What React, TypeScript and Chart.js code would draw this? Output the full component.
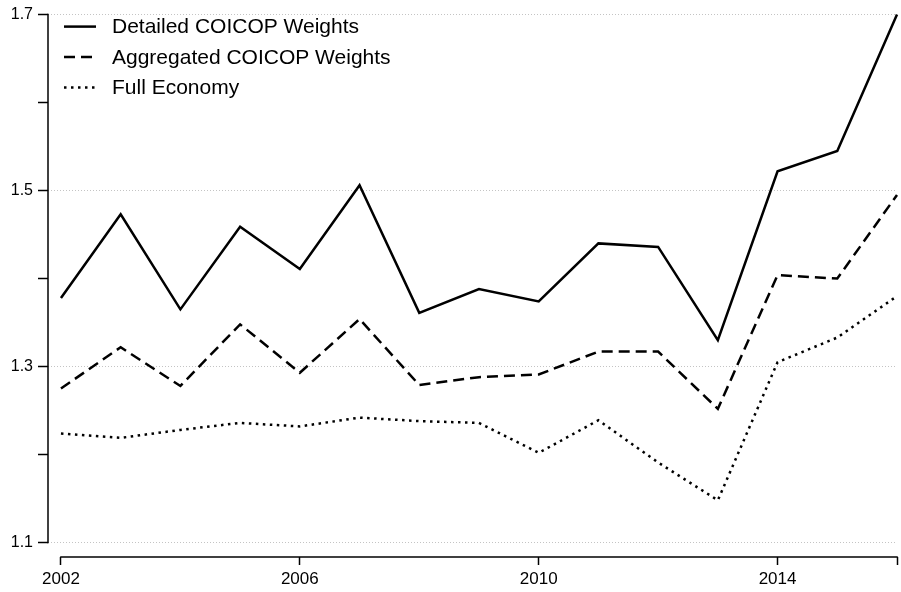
import React, { useEffect, useRef } from "react";
import { Chart, registerables } from "chart.js";

Chart.register(...registerables);

const years = [2002, 2003, 2004, 2005, 2006, 2007, 2008, 2009, 2010, 2011, 2012, 2013, 2014, 2015, 2016];
const detailed = [1.378, 1.473, 1.365, 1.459, 1.411, 1.506, 1.361, 1.388, 1.374, 1.440, 1.436, 1.330, 1.522, 1.545, 1.700];
const aggregated = [1.275, 1.322, 1.278, 1.348, 1.293, 1.354, 1.279, 1.288, 1.291, 1.317, 1.317, 1.252, 1.404, 1.400, 1.495];
const fullEconomy = [1.224, 1.219, 1.228, 1.236, 1.232, 1.242, 1.238, 1.236, 1.202, 1.239, 1.191, 1.148, 1.305, 1.333, 1.380];

const seriesLabels = ["Detailed COICOP Weights", "Aggregated COICOP Weights", "Full Economy"];
const xTicks = [2002, 2006, 2010, 2014, 2016];
const xLabelled = [2002, 2006, 2010, 2014];
const yTicks = [1.1, 1.2, 1.3, 1.4, 1.5, 1.6, 1.7];
const yLabelled = [1.1, 1.3, 1.5, 1.7];

const FONT = '"Liberation Sans", Arial, Helvetica, sans-serif';

const isIn = (arr: number[], v: number) => arr.some((a) => Math.abs(a - v) < 1e-6);

const axesPlugin = {
  id: "stataAxes",
  afterDraw(chart: any) {
    const ctx = chart.ctx;
    const xs = chart.scales.x;
    const ys = chart.scales.y;
    const area = chart.chartArea;
    ctx.save();
    ctx.strokeStyle = "#000";
    ctx.lineWidth = 1.5;
    ctx.setLineDash([]);
    ctx.beginPath();
    ctx.moveTo(area.left, ys.getPixelForValue(yTicks[yTicks.length - 1]) - 0.75);
    ctx.lineTo(area.left, ys.getPixelForValue(yTicks[0]) + 0.75);
    ctx.stroke();
    ctx.beginPath();
    ctx.moveTo(xs.getPixelForValue(xTicks[0]) - 0.75, area.bottom);
    ctx.lineTo(xs.getPixelForValue(xTicks[xTicks.length - 1]) + 0.75, area.bottom);
    ctx.stroke();

    // legend
    const ds = chart.data.datasets;
    ctx.font = "21px " + FONT;
    ctx.textBaseline = "middle";
    ctx.textAlign = "left";
    ds.forEach((d: any, i: number) => {
      const y = area.top + 12 + i * 30.5;
      ctx.strokeStyle = d.borderColor;
      ctx.lineWidth = d.borderWidth;
      ctx.setLineDash(d.borderDash || []);
      ctx.lineCap = "butt";
      ctx.beginPath();
      ctx.moveTo(area.left + 16, y);
      ctx.lineTo(area.left + 48, y);
      ctx.stroke();
      ctx.setLineDash([]);
      ctx.fillStyle = "#000";
      ctx.fillText(d.label, area.left + 64, y + 1);
    });
    ctx.restore();
  },
};

export default function App() {
  const ref = useRef<HTMLCanvasElement | null>(null);
  useEffect(() => {
    if (!ref.current) return;
    const mk = (vals: number[]) => years.map((x, i) => ({ x, y: vals[i] }));
    const chart = new Chart(ref.current, {
      type: "line",
      data: {
        datasets: [
          { label: seriesLabels[0], data: mk(detailed), borderColor: "#000", borderWidth: 2.5, borderDash: [], pointRadius: 0, tension: 0, borderJoinStyle: "miter", clip: false },
          { label: seriesLabels[1], data: mk(aggregated), borderColor: "#000", borderWidth: 2.5, borderDash: [11, 6], pointRadius: 0, tension: 0, borderJoinStyle: "miter", clip: false },
          { label: seriesLabels[2], data: mk(fullEconomy), borderColor: "#000", borderWidth: 2.5, borderDash: [2.5, 4.5], pointRadius: 0, tension: 0, borderJoinStyle: "miter", clip: false },
        ] as any,
      },
      options: {
        animation: false,
        responsive: false,
        devicePixelRatio: 1,
        layout: { padding: { top: 13, right: 2, left: 0, bottom: 0 } },
        plugins: { legend: { display: false }, tooltip: { enabled: false } },
        scales: {
          x: {
            type: "linear",
            min: 2001.783,
            max: 2016,
            afterBuildTicks: (s: any) => {
              s.ticks = xTicks.map((v) => ({ value: v }));
            },
            afterFit: (s: any) => {
              s.height = 35;
            },
            ticks: {
              autoSkip: false,
              maxRotation: 0,
              padding: 4,
              color: "#000",
              font: { size: 17, family: FONT },
              callback: (v: any) => (isIn(xLabelled, Number(v)) ? String(v) : ""),
            },
            grid: {
              drawOnChartArea: false,
              drawTicks: true,
              tickLength: 8,
              color: "#000",
              tickColor: "#000",
              tickWidth: 1.5,
            },
            border: { display: false },
          },
          y: {
            type: "linear",
            min: 1.0836,
            max: 1.7,
            afterBuildTicks: (s: any) => {
              s.ticks = yTicks.map((v) => ({ value: v }));
            },
            afterFit: (s: any) => {
              s.width = 48;
            },
            ticks: {
              autoSkip: false,
              padding: 5,
              color: "#000",
              font: { size: 16, family: FONT },
              callback: (v: any) => (isIn(yLabelled, Number(v)) ? Number(v).toFixed(1) : ""),
            },
            grid: {
              drawOnChartArea: true,
              drawTicks: true,
              tickLength: 10,
              lineWidth: 1,
              color: (c: any) => (c.tick && isIn(yLabelled, c.tick.value) ? "#c4c4c4" : "rgba(0,0,0,0)"),
              tickColor: "#000",
              tickWidth: 1.5,
              tickBorderDash: [],
            },
            border: { display: false, dash: [1, 2] },
          },
        },
      } as any,
      plugins: [axesPlugin],
    });
    return () => chart.destroy();
  }, []);
  return (
    <div style={{ position: "fixed", left: 0, top: 0, width: 901, height: 592, background: "#fff" }}>
      <canvas ref={ref} width={901} height={592} style={{ display: "block" }} />
    </div>
  );
}
